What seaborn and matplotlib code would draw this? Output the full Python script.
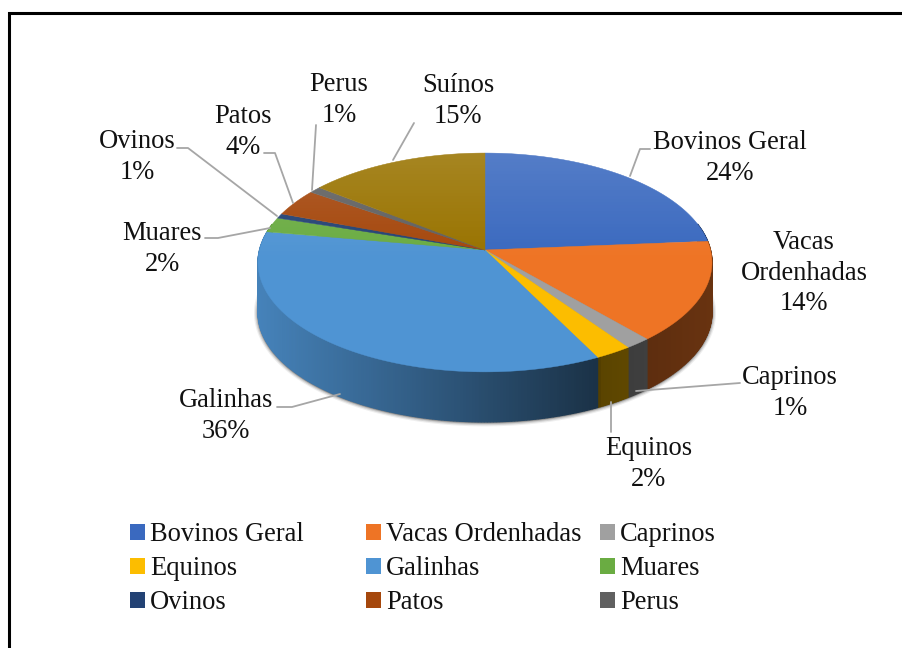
import numpy as np
import matplotlib
matplotlib.use("Agg")
import matplotlib.pyplot as plt
from matplotlib.patches import Patch, Polygon
import seaborn as sns

# ---------- data ----------
categories = ["Bovinos Geral", "Vacas Ordenhadas", "Caprinos", "Equinos", "Galinhas",
              "Muares", "Ovinos", "Patos", "Perus", "Suínos"]
shares = [23.7, 14.9, 1.65, 2.35, 35.15, 2.2, 0.7, 4.0, 0.95, 14.4]
pct_labels = ["24%", "14%", "1%", "2%", "36%", "2%", "1%", "4%", "1%", "15%"]
slice_colors = ["#3a69bf", "#ee7425", "#a0a0a0", "#fcbd00", "#4f94d3",
                "#6aac42", "#234274", "#a5470c", "#606060", "#997300"]
legend_columns = [["Bovinos Geral", "Equinos", "Ovinos"],
                  ["Vacas Ordenhadas", "Galinhas", "Patos"],
                  ["Caprinos", "Muares", "Perus"]]

# ---------- layout ----------
W, H = 902, 648
CX, CY, RX, RY, K, DEPTH = 485, 250, 225.5, 108, 0.114, 50
FS = 19.1
label_pos = {"Bovinos Geral": (730, 158), "Vacas Ordenhadas": (804, 273), "Caprinos": (790, 393),
             "Equinos": (649, 464), "Galinhas": (226, 416), "Muares": (162, 249),
             "Ovinos": (137, 157), "Patos": (243, 132), "Perus": (339, 100), "Suínos": (458, 101)}
leaders = [[(630, 176), (640, 149), (650, 149)],
           [(636, 391), (740, 383)],
           [(611, 402), (611, 432)],
           [(340, 394), (292, 407), (277, 407)],
           [(270, 228), (218, 238), (205, 238)],
           [(277, 216), (188, 148), (177, 148)],
           [(293, 203), (275, 153), (264, 153)],
           [(312, 190), (316, 125)],
           [(393, 160), (414, 123)]]
legend_x = [130, 366, 600]

sns.set_theme(style="white")
plt.rcParams["font.family"] = ["Liberation Serif", "DejaVu Serif"]
palette = sns.color_palette(slice_colors)

fig = plt.figure(figsize=(W / 100, H / 100), dpi=100, facecolor="white")
ax = fig.add_axes([0, 0, 1, 1])
ax.set_xlim(0, W)
ax.set_ylim(H, 0)
ax.axis("off")


def project(theta, z=0.0):
    """Map an angle on the disc (clockwise from the top) to picture position."""
    w = 1 + K * np.cos(theta)
    return CX + RX * np.sin(theta) / w, CY - RY * np.cos(theta) / w + z


fractions = np.asarray(shares) / np.sum(shares)
edges = np.concatenate([[0], np.cumsum(fractions)]) * 2 * np.pi

# soft shadow below the disc
ring = np.linspace(0, 2 * np.pi, 360)
rx_s, ry_s = project(ring, DEPTH)
for grow, alpha in [(4.0, 0.08), (2.8, 0.14), (1.6, 0.22), (0.7, 0.35)]:
    sx = CX + (rx_s - CX) * (1 + grow / RX)
    sy = 262 + DEPTH + (ry_s - 262 - DEPTH) * (1 + grow / 110) + 0.5
    ax.add_patch(Polygon(np.c_[sx, sy], closed=True, fc="#303030", ec="none", alpha=alpha, zorder=1))

# side wall, shaded by horizontal position
def wall_shade(x):
    if x < 600:
        return 0.88 - (x - 258) / (600 - 258) * 0.55
    return 0.36 + (x - 600) / 112 * 0.08


for start, stop, col in zip(edges[:-1], edges[1:], palette):
    n = max(2, int((stop - start) / 0.012))
    th = np.linspace(start, stop, n + 1)
    for a, b in zip(th[:-1], th[1:]):
        if np.cos((a + b) / 2) > 0.25:
            continue
        xa, ya = project(a)
        xb, yb = project(b)
        f = wall_shade((xa + xb) / 2)
        c = tuple(min(1, ch * f) for ch in col)
        ax.add_patch(Polygon([(xa, ya), (xb, yb), (xb, yb + DEPTH), (xa, ya + DEPTH)], closed=True,
                             fc=c, ec=c, lw=0.9, zorder=2))

# top surface
for start, stop, col in zip(edges[:-1], edges[1:], palette):
    th = np.linspace(start, stop, max(3, int((stop - start) / 0.01)))
    xs, ys = project(th)
    ax.add_patch(Polygon(np.r_[[[CX, CY]], np.c_[xs, ys]], closed=True, fc=col, ec=col, lw=0.3, zorder=3))

# light falling off from the back of the disc
top_x, top_y = project(ring)
clip = Polygon(np.c_[top_x, top_y], closed=True, transform=ax.transData, fc="none", ec="none")
ax.add_patch(clip)
ramp = np.zeros((200, 2, 4))
ramp[..., :3] = 1.0
ramp[..., 3] = np.clip(np.linspace(0.14, -0.005, 200), 0, None)[:, None]
im = ax.imshow(ramp, extent=(250, 720, 265, 150), aspect="auto", zorder=4, interpolation="bilinear")
im.set_clip_path(clip)
ax.set_xlim(0, W)
ax.set_ylim(H, 0)

# leader lines
for pts in leaders:
    xs, ys = zip(*pts)
    ax.plot(xs, ys, color="#a6a6a6", lw=1.3, zorder=5, solid_capstyle="round")

# labels
for name, pct in zip(categories, pct_labels):
    x, y = label_pos[name]
    txt = name.replace(" Ordenhadas", "\nOrdenhadas")
    ax.text(x, y, f"{txt}\n{pct}", ha="center", va="center", fontsize=FS, color="#111111",
            linespacing=1.28, zorder=6)

# legend: three columns that hold their own places
lookup = dict(zip(categories, palette))
for lx, names in zip(legend_x, legend_columns):
    handles = [Patch(fc=lookup[n], ec="none", label=n) for n in names]
    leg = ax.legend(handles=handles, loc="upper left", bbox_to_anchor=(lx / W, 1 - 522 / H),
                    bbox_transform=ax.transAxes, frameon=False, fontsize=FS, borderpad=0, borderaxespad=0,
                    handlelength=0.565, handleheight=0.565, handletextpad=0.2, labelspacing=0.34,
                    labelcolor="#111111")
    ax.add_artist(leg)
ax.legend_ = None

# frame of the original picture
ax.plot([9, 9, W], [H, 13, 13], color="black", lw=2.2, solid_joinstyle="miter", zorder=7, clip_on=False)

fig.savefig("out.png", dpi=100, facecolor="white")
